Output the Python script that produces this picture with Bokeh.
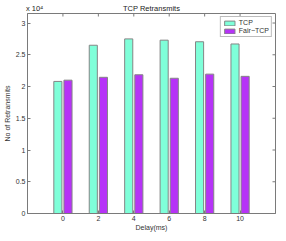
from bokeh.plotting import figure
from bokeh.models import (Range1d, FixedTicker, LinearAxis, ColumnDataSource)
from bokeh.transform import dodge
from bokeh.embed import file_html
from bokeh.resources import INLINE
import math

delays = [0, 2, 4, 6, 8, 10]
tcp = [20800, 26500, 27500, 27300, 27050, 26700]
fair_tcp = [21000, 21450, 21850, 21300, 21950, 21600]
y_ticks = [0, 5000, 10000, 15000, 20000, 25000, 30000]
y_tick_labels = ["0", "0.5", "1", "1.5", "2", "2.5", "3"]
series_names = ["TCP", "Fair\u2212TCP"]
title_text = "TCP Retransmits"
exponent_text = "x 10\u2074"
x_label = "Delay(ms)"
y_label = "No of Retransmits"
x_lo, x_hi = -2, 12
y_lo, y_hi = 0, 31500

FONT = "Liberation Sans"
AX = "#7a7a7a"
TXT = "#333333"

src = ColumnDataSource(dict(x=delays, tcp=tcp, fair=fair_tcp,
                            top=[y_hi] * len(delays)))
ysrc = ColumnDataSource(dict(y=y_ticks, right=[x_hi] * len(y_ticks)))

p = figure(width=278, height=233, output_backend="svg", toolbar_location=None,
           x_range=Range1d(x_lo, x_hi), y_range=Range1d(y_lo, y_hi),
           min_border_left=0, min_border_right=3, min_border_top=0,
           min_border_bottom=0)
p.grid.visible = False
p.outline_line_color = AX
p.background_fill_color = "white"
p.border_fill_color = "white"

p.vbar(x=dodge("x", -0.286, range=p.x_range), top="tcp", width=0.457, source=src,
       fill_color="#7FFFD9", line_color="#858585", line_width=1,
       legend_label=series_names[0])
p.vbar(x=dodge("x", 0.286, range=p.x_range), top="fair", width=0.457, source=src,
       fill_color="#B633F7", line_color="#858585", line_width=1,
       legend_label=series_names[1])

# box-style inward ticks on top and right edges (half of each dash is clipped away)
p.scatter(x="x", y="top", source=src, marker="dash", angle=math.pi / 2, size=6,
          line_color=AX, line_width=1)
p.scatter(x="right", y="y", source=ysrc, marker="dash", size=6,
          line_color=AX, line_width=1)

xa = p.xaxis[0]
xa.ticker = FixedTicker(ticks=delays)
ya = p.yaxis[0]
ya.ticker = FixedTicker(ticks=y_ticks)
ya.major_label_overrides = {t: l for t, l in zip(y_ticks, y_tick_labels)}
for ax in (xa, ya):
    ax.axis_line_color = AX
    ax.major_tick_line_color = AX
    ax.major_tick_in = 3
    ax.major_tick_out = 0
    ax.minor_tick_line_color = None
    ax.major_label_text_font = FONT
    ax.major_label_text_font_size = "7px"
    ax.major_label_text_color = TXT
    ax.major_label_text_line_height = 1.0
    ax.axis_label_text_font = FONT
    ax.axis_label_text_font_size = "7px"
    ax.axis_label_text_font_style = "normal"
    ax.axis_label_text_color = TXT
    ax.axis_label_text_line_height = 1.0
    ax.major_label_standoff = 2
xa.axis_label = x_label
ya.axis_label = y_label
xa.axis_label_standoff = 0
xa.axis_label_text_line_height = 0.5
xa.major_label_text_line_height = 0.8
ya.axis_label_standoff = 2

# heading row: exponent marker at the left and the title at the centre
head_pos = [x_lo + 0.4, (x_lo + x_hi) / 2]
head = LinearAxis(ticker=FixedTicker(ticks=head_pos),
                  major_label_overrides={head_pos[0]: exponent_text,
                                         head_pos[1]: title_text},
                  axis_line_color=None, major_tick_line_color=None,
                  minor_tick_line_color=None, major_tick_out=0, major_tick_in=0,
                  major_label_standoff=1, major_label_text_font=FONT,
                  major_label_text_font_size="7.5px", major_label_text_color="#222222",
                  major_label_text_line_height=1.0)
p.add_layout(head, "above")

lg = p.legend[0]
lg.location = "top_right"
lg.margin = 3
lg.padding = 2
lg.spacing = 1
lg.glyph_width = 13
lg.glyph_height = 6
lg.label_height = 6
lg.label_standoff = 3
lg.label_text_font = FONT
lg.label_text_font_size = "7px"
lg.label_text_color = TXT
lg.border_line_color = AX
lg.background_fill_alpha = 1

open("out.html", "w").write(file_html(p, INLINE))
